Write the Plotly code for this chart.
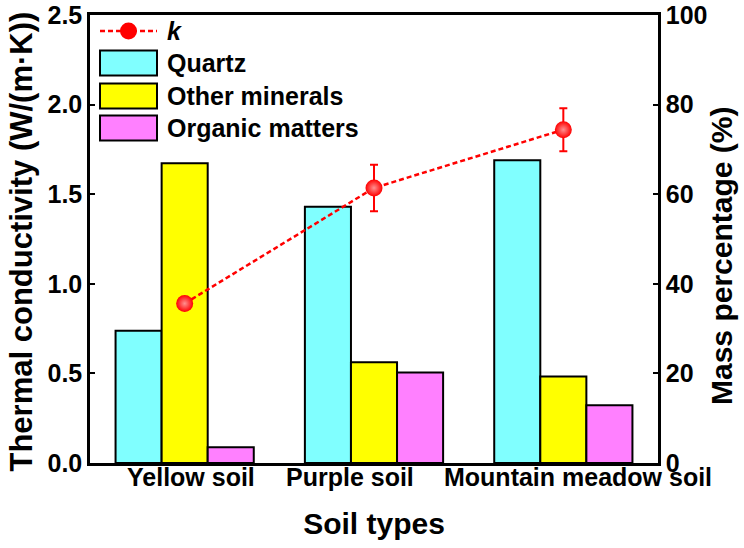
import plotly.graph_objects as go

categories = ["Yellow soil", "Purple soil", "Mountain meadow soil"]
quartz = [29.5, 57.2, 67.6]
other_minerals = [66.9, 22.5, 19.3]
organic_matters = [3.5, 20.2, 12.9]
k_values = [0.89, 1.535, 1.86]
k_errors = [0.03, 0.13, 0.12]
pct_ticks = [0, 20, 40, 60, 80, 100]
k_ticks = [0.0, 0.5, 1.0, 1.5, 2.0, 2.5]

series_names = ["Quartz", "Other minerals", "Organic matters"]
series_colors = ["#80FFFF", "#FFFF00", "#FF80FF"]
series_values = [quartz, other_minerals, organic_matters]

W, H = 744, 548
L, R, T, B = 90, 86, 15, 85
PW, PH = W - L - R, H - T - B
FONT = "Liberation Sans, Arial, sans-serif"


def px(x):  # window pixel -> paper
    return (x - L) / PW


def py(y):
    return (H - B - y) / PH


fig = go.Figure()

for name, color, vals in zip(series_names, series_colors, series_values):
    fig.add_trace(go.Bar(
        x=categories, y=vals, name=name, yaxis="y",
        marker=dict(color=color, line=dict(color="black", width=2)),
        showlegend=False,
    ))

fig.add_trace(go.Scatter(
    x=categories, y=k_values, name="k", yaxis="y2", mode="lines+markers",
    line=dict(color="#FF0000", width=2.5, dash="5px,3px"),
    marker=dict(color="#FF0000", size=17, line=dict(width=0),
                gradient=dict(type="radial", color="#FF9090")),
    error_y=dict(type="data", array=k_errors, visible=True, color="#FF0000",
                 thickness=2, width=4),
    showlegend=False,
))

shapes = []
annotations = []

# custom legend
shapes.append(dict(type="line", xref="paper", yref="paper",
                   x0=px(100), x1=px(157), y0=py(31), y1=py(31),
                   line=dict(color="#FF0000", width=2.5, dash="5px,3px")))
shapes.append(dict(type="circle", xref="paper", yref="paper",
                   x0=px(120), x1=px(137), y0=py(39.5), y1=py(22.5),
                   fillcolor="#FF0000", line=dict(color="#FF0000", width=0)))
annotations.append(dict(text="<b><i>k</i></b>", xref="paper", yref="paper",
                        x=px(165), y=py(31), xanchor="left", yanchor="middle",
                        showarrow=False, font=dict(size=25, family=FONT, color="black")))
legend_rows = [63, 96, 128]
for name, color, yc in zip(series_names, series_colors, legend_rows):
    shapes.append(dict(type="rect", xref="paper", yref="paper",
                       x0=px(100), x1=px(157), y0=py(yc + 12.5), y1=py(yc - 12.5),
                       fillcolor=color, line=dict(color="black", width=2)))
    annotations.append(dict(text="<b>" + name + "</b>", xref="paper", yref="paper",
                            x=px(165), y=py(yc), xanchor="left", yanchor="middle",
                            showarrow=False, font=dict(size=25, family=FONT, color="black")))

# category tick labels (placed to avoid overlap, as in the reference)
label_shift = [6, -24, 15]
for cat, sh in zip(categories, label_shift):
    annotations.append(dict(text="<b>" + cat + "</b>", xref="x", yref="paper",
                            x=cat, y=0, xanchor="center", yanchor="top",
                            xshift=sh, yshift=2, showarrow=False,
                            font=dict(size=25, family=FONT, color="black")))

# axis titles
annotations.append(dict(text="<b>Thermal conductivity (W/(m·K))</b>", textangle=-90,
                        xref="paper", yref="paper", x=px(21), y=py(241.5),
                        xanchor="center", yanchor="middle", showarrow=False,
                        font=dict(size=31, family=FONT, color="black")))
annotations.append(dict(text="<b>Mass percentage (%)</b>", textangle=-90,
                        xref="paper", yref="paper", x=px(721), y=py(256),
                        xanchor="center", yanchor="middle", showarrow=False,
                        font=dict(size=30, family=FONT, color="black")))

fig.update_layout(
    width=W, height=H,
    margin=dict(l=L, r=R, t=T, b=B, autoexpand=False),
    paper_bgcolor="white", plot_bgcolor="white",
    font=dict(family=FONT, color="black", size=24),
    barmode="group", bargap=0.27, bargroupgap=0,
    shapes=shapes, annotations=annotations,
    xaxis=dict(
        type="category", range=[-0.5, 2.5], automargin=False,
        showline=True, linecolor="black", linewidth=2.5, mirror=True,
        ticks="", showticklabels=False, showgrid=False, zeroline=False,
        title=dict(text="<b>Soil types</b>", font=dict(size=30, family=FONT), standoff=49),
    ),
    yaxis=dict(
        side="right", range=[0, 100], tickvals=pct_ticks, automargin=False,
        showline=True, linecolor="black", linewidth=2.5,
        ticks="inside", ticklen=5, tickwidth=2, tickcolor="black",
        showgrid=False, zeroline=False, ticklabeloverflow="allow",
        tickfont=dict(size=25, family=FONT, weight="bold"),
    ),
    yaxis2=dict(
        side="left", overlaying="y", range=[0, 2.5], tickvals=k_ticks,
        tickformat=".1f", automargin=False,
        showline=True, linecolor="black", linewidth=2.5,
        ticks="inside", ticklen=5, tickwidth=2, tickcolor="black",
        showgrid=False, zeroline=False, ticklabeloverflow="allow",
        tickfont=dict(size=25, family=FONT, weight="bold"),
    ),
)

fig.write_html("out.html", config={"displayModeBar": False},
               post_script="document.body.style.margin='0';")
